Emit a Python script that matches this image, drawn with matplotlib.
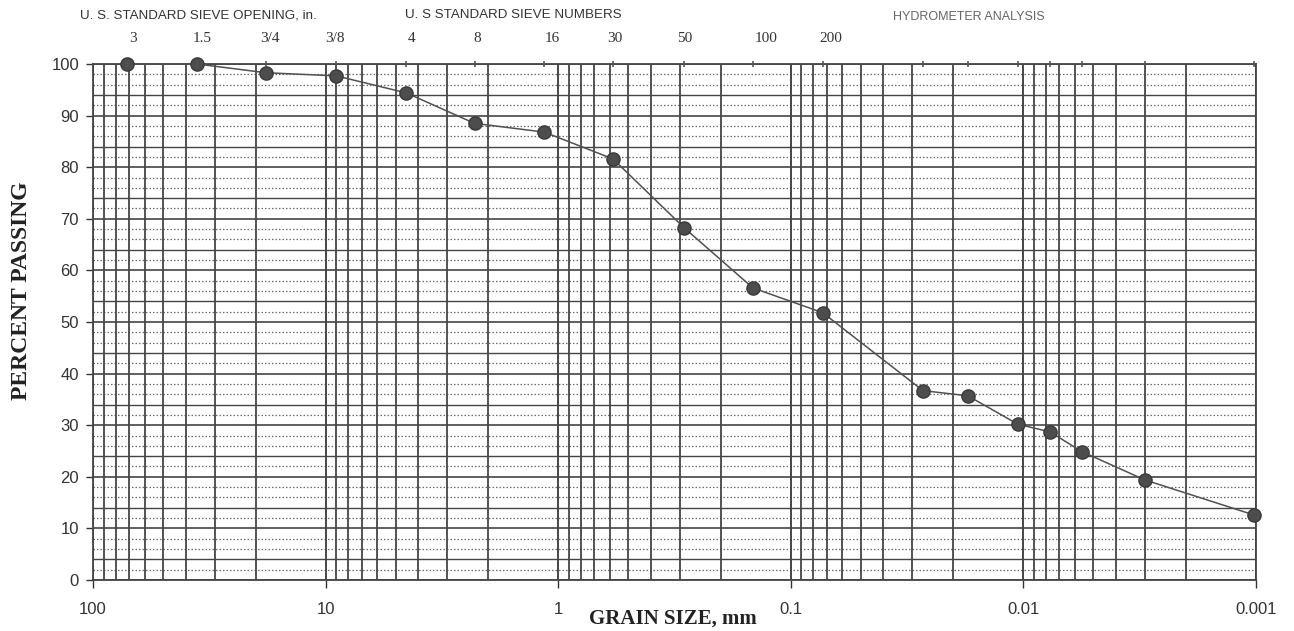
import numpy as np
import matplotlib
matplotlib.use("Agg")
import matplotlib.pyplot as plt
from matplotlib.ticker import FixedLocator, NullFormatter, LogLocator

# ---- data ----
grain_mm = [71.2, 35.7, 17.97, 9.0, 4.50, 2.29, 1.148, 0.581, 0.288, 0.1455,
            0.0729, 0.02704, 0.01733, 0.01058, 0.00768, 0.00562, 0.003006, 0.00102]
percent_passing = [100.0, 100.0, 98.3, 97.7, 94.4, 88.5, 86.8, 81.6, 68.3, 56.6,
                   51.8, 36.7, 35.7, 30.2, 28.7, 24.9, 19.4, 12.6]

sieve_labels = ["3", "1.5", "3/4", "3/8", "4", "8", "16", "30", "50", "100", "200"]
sieve_label_mm = [67.4, 34.0, 17.4, 9.15, 4.27, 2.23, 1.06, 0.569, 0.285, 0.128, 0.0673]

x_ticks = [100, 10, 1, 0.1, 0.01, 0.001]
x_tick_labels = ["100", "10", "1", "0.1", "0.01", "0.001"]
y_ticks = [0, 10, 20, 30, 40, 50, 60, 70, 80, 90, 100]

header_opening = "U. S. STANDARD SIEVE OPENING, in."
header_numbers = "U. S STANDARD SIEVE NUMBERS"
header_hydro = "HYDROMETER ANALYSIS"
x_label = "GRAIN SIZE, mm"
y_label = "PERCENT PASSING"

# ---- figure ----
W, H = 1294, 631
fig = plt.figure(figsize=(W / 100, H / 100), dpi=100)
ax = fig.add_axes([93 / W, 1 - 580 / H, (1256 - 93) / W, (580 - 64) / H])

ax.set_xscale("log")
ax.set_xlim(100, 0.001)
ax.set_ylim(0, 100)

grid_dark = "#454545"
dot_col = "#6a6a6a"

# vertical grid: decades and log minor lines
ax.xaxis.set_major_locator(FixedLocator(x_ticks))
ax.xaxis.set_minor_locator(LogLocator(base=10, subs=np.arange(2, 10)))
ax.xaxis.set_minor_formatter(NullFormatter())
ax.set_xticks(x_ticks)
ax.set_xticklabels(x_tick_labels)
ax.grid(True, which="major", axis="x", color=grid_dark, lw=1.4)
ax.grid(True, which="minor", axis="x", color=grid_dark, lw=1.3)

# horizontal grid: solid at tens, dotted every 2 with some solid lines
ax.set_yticks(y_ticks)
ax.yaxis.set_minor_locator(FixedLocator([v for v in range(0, 101, 2) if v % 10 != 0]))
ax.grid(True, which="major", axis="y", color=grid_dark, lw=1.2)
for v in range(2, 100, 2):
    if v % 10 == 4:
        ax.axhline(v, color=grid_dark, lw=1.0, zorder=0.5)
    elif v % 10 != 0:
        ax.axhline(v, color=dot_col, lw=0.9, ls=(0, (1.2, 1.6)), zorder=0.5)
ax.set_axisbelow(True)

for s in ax.spines.values():
    s.set_color(grid_dark)
    s.set_linewidth(1.3)

ax.tick_params(axis="both", which="major", labelsize=12, colors="#333333",
               labelcolor="#333333")
ax.tick_params(axis="y", which="major", length=5, width=1.0, pad=5)
ax.tick_params(axis="y", which="minor", length=0)
ax.tick_params(axis="x", which="major", length=6, width=1.0, pad=10)
ax.tick_params(axis="x", which="minor", length=0)
for lab in ax.get_xticklabels() + ax.get_yticklabels():
    lab.set_family("Liberation Sans")

# data curve
ax.plot(grain_mm, percent_passing, color="#505050", lw=1.1, zorder=3,
        marker="o", ms=9.5, mfc="#4d4d4d", mec="#3a3a3a", mew=1.0, clip_on=False)

# top axis: sieve labels and small marks at test sizes
top = ax.twiny()
top.set_xscale("log")
top.set_xlim(ax.get_xlim())
top.set_xticks(sieve_label_mm)
top.set_xticklabels(sieve_labels, family="Liberation Serif", fontsize=11,
                    color="#333333")
top.xaxis.set_minor_locator(FixedLocator(grain_mm))
top.xaxis.set_minor_formatter(NullFormatter())
top.tick_params(axis="x", which="major", length=0, pad=14)
top.tick_params(axis="x", which="minor", length=4, width=1.2, direction="inout",
                color="#555555")
for s in top.spines.values():
    s.set_visible(False)

# headers
hdr = dict(family="Liberation Sans", fontsize=9.6, color="#333333", va="center")
fig.text(80 / W, 1 - 16 / H, header_opening, ha="left", **hdr)
fig.text(405 / W, 1 - 15 / H, header_numbers, ha="left", **hdr)
fig.text(893 / W, 1 - 17 / H, header_hydro, ha="left",
         **{**hdr, "color": "#666666", "fontsize": 9.0})

# axis titles
fig.text(673 / W, 1 - 619 / H, x_label, ha="center", va="center",
         family="Liberation Serif", fontweight="bold", fontsize=15, color="#222222")
fig.text(22 / W, 1 - 291 / H, y_label, ha="center", va="center", rotation=90,
         family="Liberation Serif", fontweight="bold", fontsize=17, color="#222222")

fig.savefig("out.png", dpi=100, facecolor="white")
